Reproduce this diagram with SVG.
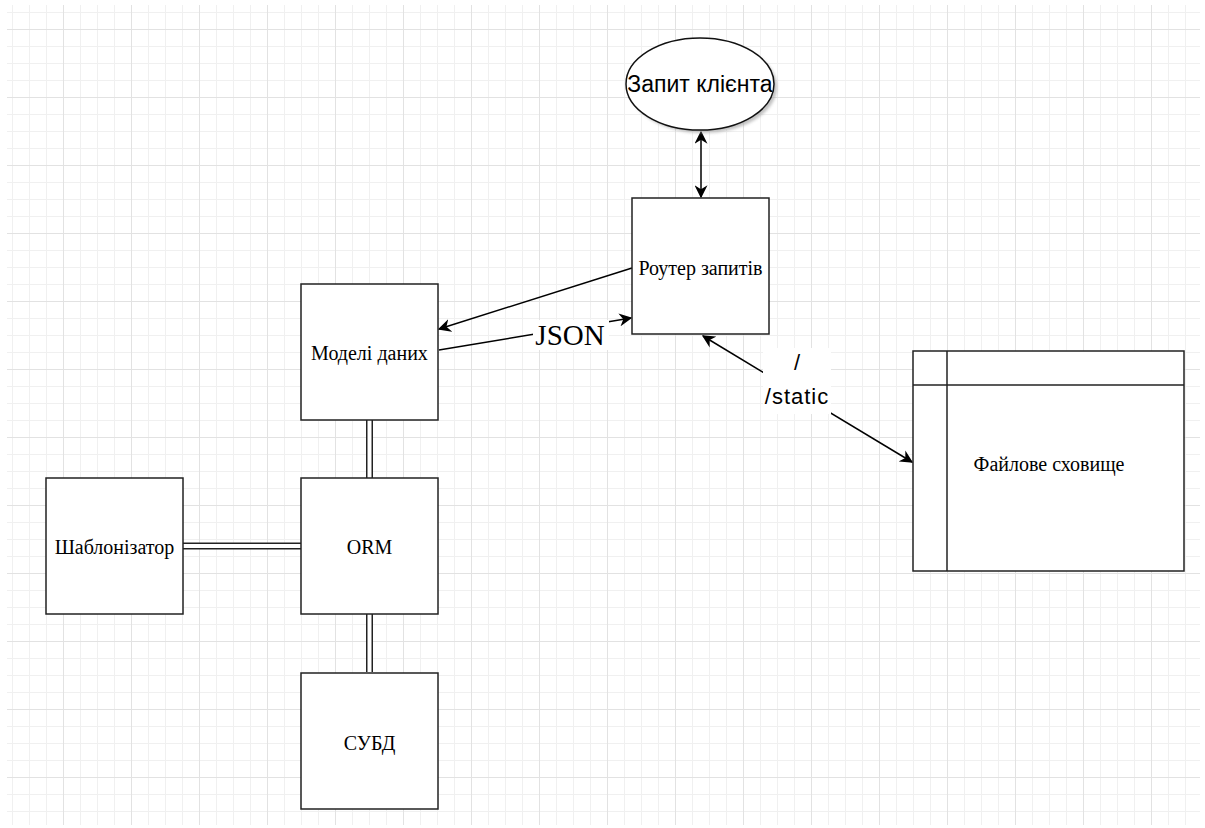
<svg xmlns="http://www.w3.org/2000/svg" width="1205" height="828" viewBox="0 0 1205 828">
<defs>
<pattern id="minor" x="12" y="12" width="17" height="17" patternUnits="userSpaceOnUse">
<path d="M0 0.5H17M0.5 0V17" fill="none" stroke="#f0f0f0" stroke-width="1"/>
</pattern>
<pattern id="major" x="-5" y="29" width="68" height="68" patternUnits="userSpaceOnUse">
<path d="M0 0.5H68M0.5 0V68" fill="none" stroke="#e2e2e2" stroke-width="1"/>
</pattern>
<marker id="arrB" viewBox="0 0 10 10" refX="9" refY="5" markerWidth="13" markerHeight="13" markerUnits="userSpaceOnUse" orient="auto-start-reverse">
<path d="M0 0L10 5L0 10L3 5Z" fill="#000"/>
</marker>
<filter id="sh" x="-20%" y="-20%" width="140%" height="140%">
<feGaussianBlur stdDeviation="1.5"/>
</filter>
</defs>
<style>
.box{fill:#fff;stroke:#222;stroke-width:1.5}
.lbl{font-family:"Liberation Serif",serif;font-size:20px;fill:#000;text-anchor:middle;dominant-baseline:central}
.con{fill:none;stroke:#000;stroke-width:1.5}
.dbl-o{fill:none;stroke:#222;stroke-width:7}
.dbl-i{fill:none;stroke:#fff;stroke-width:4}
</style>
<rect width="1205" height="828" fill="#fff"/>
<rect x="7" y="5" width="1193" height="820" fill="url(#minor)"/>
<rect x="7" y="5" width="1193" height="820" fill="url(#major)"/>

<g id="connectors">
<line class="con" x1="701" y1="132" x2="701" y2="197" marker-start="url(#arrB)" marker-end="url(#arrB)"/>
<line class="con" x1="632" y1="268" x2="439" y2="329" marker-end="url(#arrB)"/>
<line class="con" x1="439" y1="350" x2="631" y2="318" marker-end="url(#arrB)"/>
<line class="con" x1="703" y1="336" x2="912" y2="462" marker-start="url(#arrB)" marker-end="url(#arrB)"/>
<path class="dbl-o" d="M369.5 420V478M369.5 614V672M183 546H301"/>
<path class="dbl-i" d="M369.5 420V478M369.5 614V672M183 546H301"/>
<rect x="533" y="320" width="76" height="30" fill="#fff"/>
<text x="570" y="335" font-family="Liberation Serif,serif" font-size="29" text-anchor="middle" dominant-baseline="central">JSON</text>
<rect x="763" y="348" width="68" height="66" fill="#fff"/>
<text x="797" y="362" font-family="Liberation Sans,sans-serif" font-size="22" text-anchor="middle" dominant-baseline="central">/</text>
<text x="797" y="396" font-family="Liberation Sans,sans-serif" font-size="22" text-anchor="middle" dominant-baseline="central" letter-spacing="1">/static</text>
</g>

<g id="client">
<ellipse cx="703" cy="87" rx="74" ry="46" fill="#999" filter="url(#sh)" opacity="0.6"/>
<ellipse cx="700" cy="84" rx="74" ry="46" fill="#fff" stroke="#111" stroke-width="1.5"/>
<text x="700" y="84" font-family="Liberation Sans,sans-serif" font-size="23" text-anchor="middle" dominant-baseline="central">Запит клієнта</text>
</g>
<g id="router">
<rect x="632" y="198" width="137" height="136" class="box"/>
<text x="700.5" y="268" class="lbl">Роутер запитів</text>
</g>
<g id="models">
<rect x="301" y="284" width="137" height="136" class="box"/>
<text x="369.5" y="353" class="lbl">Моделі даних</text>
</g>
<g id="orm">
<rect x="301" y="478" width="137" height="136" class="box"/>
<text x="369.5" y="547" class="lbl">ORM</text>
</g>
<g id="templater">
<rect x="46" y="478" width="137" height="136" class="box"/>
<text x="114.5" y="547" class="lbl">Шаблонізатор</text>
</g>
<g id="dbms">
<rect x="301" y="673" width="137" height="136" class="box"/>
<text x="369.5" y="743" class="lbl">СУБД</text>
</g>
<g id="storage">
<rect x="913" y="351" width="271" height="220" class="box"/>
<line x1="913" y1="385" x2="1184" y2="385" stroke="#222" stroke-width="1.5"/>
<line x1="947" y1="351" x2="947" y2="571" stroke="#222" stroke-width="1.5"/>
<text x="1049" y="464" class="lbl">Файлове сховище</text>
</g>
</svg>
